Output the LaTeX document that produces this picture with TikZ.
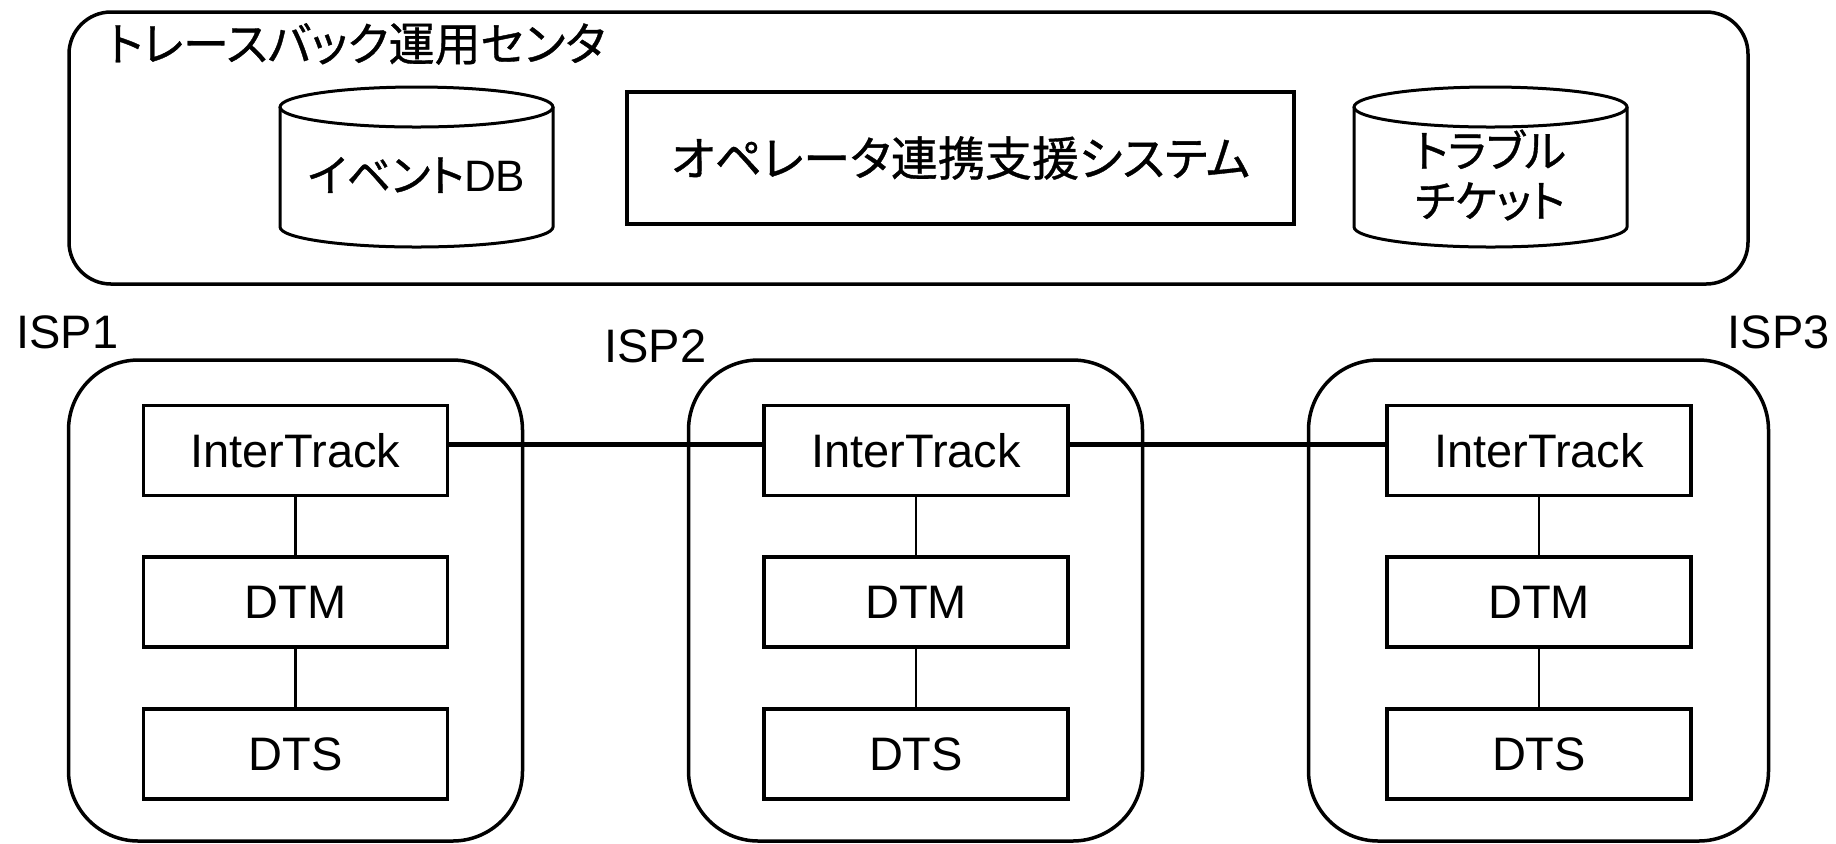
\documentclass[tikz,border=0pt]{standalone}
\usepackage{fontspec}
\setmainfont{Liberation Sans}
\newfontfamily\jp{Noto Sans CJK JP}[RawFeature=+palt, FakeBold=0.8]
\begin{document}
\begin{tikzpicture}[x=0.5pt,y=-0.5pt,
  outer/.style={draw, line width=1.75pt, inner sep=0pt},
  comp/.style={draw, line width=1.75pt, minimum width=152pt, minimum height=45pt, inner sep=0pt,
    font=\fontsize{23.5pt}{28pt}\selectfont},
  vlink/.style={line width=1.25pt},
  hlink/.style={line width=2.75pt},
  cyl/.style={line width=1.5pt},
  lbl/.style={inner sep=0pt, font=\fontsize{23.5pt}{28pt}\selectfont},
  jptext/.style={inner sep=0pt, align=center}]
\useasboundingbox (0,0) rectangle (1836,843);

% top operations centre
\node[outer, rounded corners=21pt, minimum width=839.5pt, minimum height=136pt] (center) at (908.5,148) {};
\node[jptext, anchor=west, font=\jp\fontsize{23pt}{27pt}\selectfont] (title) at (107,44) {トレースバック運用センタ};

% event DB cylinder
\node[jptext, font=\fontsize{22pt}{26pt}\selectfont] (evdb) at (416.5,175) {{\jp イベント}DB};
\draw[cyl] (280,107) -- (280,227) arc[start angle=180, end angle=360, x radius=68.25pt, y radius=10pt] -- (553,107);
\draw[cyl] (416.5,107) ellipse[x radius=68.25pt, y radius=10pt];

% operator system box
\node[draw, line width=1.75pt, minimum width=333.5pt, minimum height=66pt, inner sep=0pt,
  font=\jp\fontsize{23.5pt}{27pt}\selectfont] (ops) at (960.5,158) {オペレータ連携支援システム};

% trouble ticket cylinder
\node[jptext, font=\jp\fontsize{22pt}{25pt}\selectfont] (tt) at (1490,175) {トラブル\\チケット};
\draw[cyl] (1354,107) -- (1354,227) arc[start angle=180, end angle=360, x radius=68.25pt, y radius=10pt] -- (1627,107);
\draw[cyl] (1490.5,107) ellipse[x radius=68.25pt, y radius=10pt];

% ISP labels
\node[lbl, anchor=base west] (l1) at (16,348) {ISP1};
\node[lbl, anchor=base west] (l2) at (604,362) {ISP2};
\node[lbl, anchor=base east] (l3) at (1830,348) {ISP3};

% ISP containers
\node[outer, rounded corners=35pt, minimum width=227pt, minimum height=240.5pt] (isp1) at (295.5,600.5) {};
\node[outer, rounded corners=35pt, minimum width=227pt, minimum height=240.5pt] (isp2) at (915.5,600.5) {};
\node[outer, rounded corners=35pt, minimum width=230pt, minimum height=240.5pt] (isp3) at (1538.5,600.5) {};

% components
\foreach \i/\x in {1/295.5, 2/916, 3/1539} {
  \node[comp] (it\i) at (\x,450.5) {InterTrack};
  \node[comp] (dtm\i) at (\x,602) {DTM};
  \node[comp] (dts\i) at (\x,754) {DTS};
  \draw[vlink] (it\i) -- (dtm\i);
  \draw[vlink] (dtm\i) -- (dts\i);
}

% inter-ISP links
\draw[hlink] ([yshift=3pt]it1.east) -- ([yshift=3pt]it2.west);
\draw[hlink] ([yshift=3pt]it2.east) -- ([yshift=3pt]it3.west);
\end{tikzpicture}
\end{document}
